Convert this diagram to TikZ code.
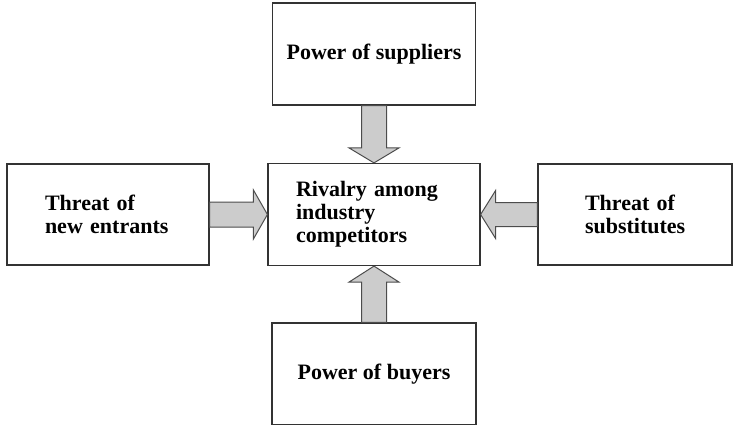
\documentclass[tikz,border=0pt]{standalone}
\usepackage{fontspec}
\setmainfont{Liberation Serif}
\usetikzlibrary{calc}
\begin{document}
\begin{tikzpicture}[x=1pt,y=-1pt,
  box/.style={draw=black!80, line width=1.2pt, inner ysep=0pt,
    font=\fontsize{22pt}{23pt}\selectfont\bfseries, align=left},
  fat/.style={draw=black!70, line width=1pt, fill=black!20, line join=miter}]
\useasboundingbox (0,0) rectangle (733,425);
% boxes
\node[box, minimum width=203pt, minimum height=102pt, align=center] (sup) at (374,54) {Power of suppliers};
\node[box, minimum width=212pt, minimum height=102pt, inner xsep=28pt, text width=156pt] (riv) at (374,214.5) {Rivalry among\\industry\\competitors};
\node[box, minimum width=202pt, minimum height=101pt, inner xsep=38pt, text width=126pt] (ent) at (108,214.5) {Threat of\\new entrants};
\node[box, minimum width=194pt, minimum height=101pt, inner xsep=47pt, text width=100pt] (sub) at (635,214.5) {Threat of\\substitutes};
\node[box, minimum width=204pt, minimum height=102pt, align=center] (buy) at (374,374) {Power of buyers};
% fat arrows
\draw[fat] ($(sup.south)+(-12.5,0)$) -- ($(riv.north)+(-12.5,-15)$) -- ($(riv.north)+(-25,-15)$) -- (riv.north)
  -- ($(riv.north)+(25,-15)$) -- ($(riv.north)+(12.5,-15)$) -- ($(sup.south)+(12.5,0)$) -- cycle;
\draw[fat] ($(buy.north)+(-12.5,0)$) -- ($(riv.south)+(-12.5,16)$) -- ($(riv.south)+(-25,16)$) -- (riv.south)
  -- ($(riv.south)+(25,16)$) -- ($(riv.south)+(12.5,16)$) -- ($(buy.north)+(12.5,0)$) -- cycle;
\draw[fat] ($(ent.east)+(0,-12.5)$) -- ($(riv.west)+(-14,-12.5)$) -- ($(riv.west)+(-14,-24.5)$) -- (riv.west)
  -- ($(riv.west)+(-14,24.5)$) -- ($(riv.west)+(-14,12.5)$) -- ($(ent.east)+(0,12.5)$) -- cycle;
\draw[fat] ($(sub.west)+(0,-12)$) -- ($(riv.east)+(15,-12)$) -- ($(riv.east)+(15,-24)$) -- (riv.east)
  -- ($(riv.east)+(15,24)$) -- ($(riv.east)+(15,12)$) -- ($(sub.west)+(0,12)$) -- cycle;
\end{tikzpicture}
\end{document}
